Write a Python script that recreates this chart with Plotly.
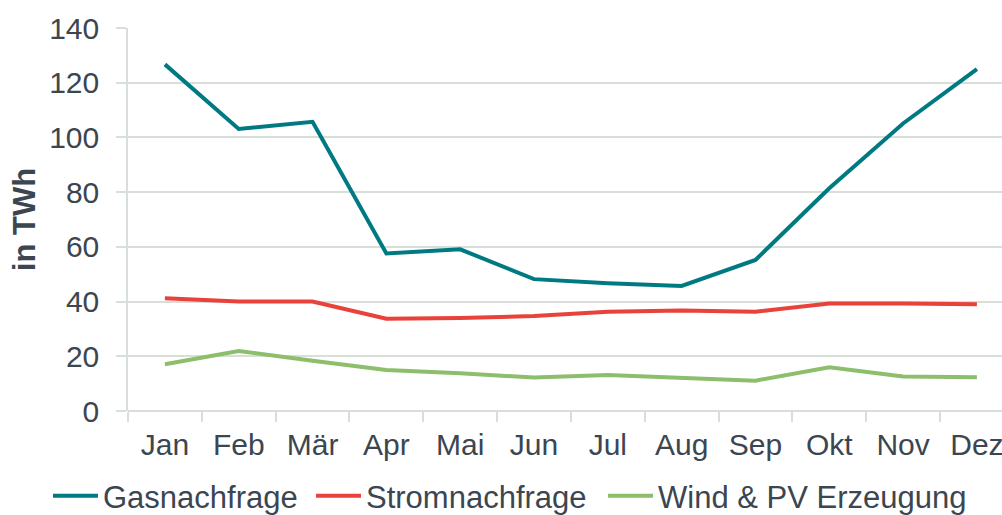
import plotly.graph_objects as go

months = ["Jan", "Feb", "Mär", "Apr", "Mai", "Jun", "Jul", "Aug", "Sep", "Okt", "Nov", "Dez"]
gas = [126.7, 103.1, 105.7, 57.6, 59.1, 48.2, 46.7, 45.7, 55.2, 81.4, 105.1, 125.0]
strom = [41.2, 40.0, 40.0, 33.7, 34.0, 34.7, 36.3, 36.7, 36.3, 39.3, 39.3, 39.0]
wind_pv = [17.1, 21.9, 18.4, 15.0, 13.8, 12.2, 13.2, 12.3, 11.1, 16.0, 12.6, 12.3]

series = [
    ("Gasnachfrage", gas, "#007A82", "legend", 48),
    ("Stromnachfrage", strom, "#E8423A", "legend2", 311),
    ("Wind & PV Erzeugung", wind_pv, "#8DBE6B", "legend3", 603),
]

text_color = "#3B4651"
grid_color = "#D8DED8"
font_family = "Liberation Sans, Arial, sans-serif"
W, H = 1002, 515

fig = go.Figure()
legends = {}
for name, vals, col, lg, lx in series:
    fig.add_trace(go.Scatter(x=months, y=vals, name=name, mode="lines",
                             line=dict(color=col, width=4), legend=lg))
    legends[lg] = dict(orientation="h", xref="container", yref="container",
                       x=lx / W, y=1 - 496 / H, xanchor="left", yanchor="middle",
                       font=dict(size=31, color=text_color), itemwidth=45,
                       bgcolor="rgba(0,0,0,0)")

fig.update_layout(
    width=W, height=H,
    margin=dict(l=128, r=0, t=28, b=104, autoexpand=False),
    paper_bgcolor="white", plot_bgcolor="white",
    font=dict(family=font_family, size=30, color=text_color),
    showlegend=True,
    **legends,
)
fig.update_xaxes(
    type="category", range=[-0.5, 11.34], automargin=False,
    showgrid=False, showline=False, zeroline=False,
    ticks="outside", tickson="boundaries", ticklen=10, tickcolor=grid_color,
    tickwidth=1.5, ticklabelstandoff=13, tickfont=dict(size=30, color=text_color),
)
fig.update_yaxes(
    range=[0, 140], dtick=20, tick0=0, automargin=False,
    showgrid=True, gridcolor=grid_color, gridwidth=1.5,
    showline=True, linecolor=grid_color, linewidth=1.5,
    zeroline=True, zerolinecolor=grid_color, zerolinewidth=1.5,
    ticks="outside", ticklen=10, tickcolor=grid_color, tickwidth=1.5,
    ticklabelstandoff=11,
    tickfont=dict(size=30, color=text_color),
    title=dict(text="<b>in TWh</b>", font=dict(size=31, color=text_color), standoff=4),
)

fig.write_html("out.html", config={"displayModeBar": False},
               post_script="document.body.style.margin='0';document.body.style.overflow='hidden';")
